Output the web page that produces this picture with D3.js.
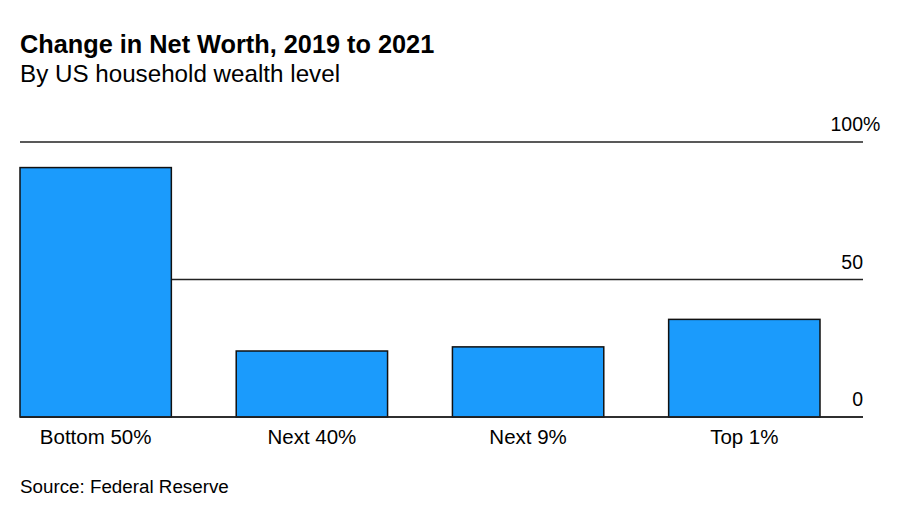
<!DOCTYPE html>
<html><head><meta charset="utf-8">
<script src="https://cdn.jsdelivr.net/npm/d3@7"></script>
<style>body{margin:0;background:#fff;} svg{display:block;} text{font-family:"Liberation Sans",Arial,sans-serif;fill:#000;}</style>
</head><body>
<svg id="c" width="908" height="517"></svg>
<script>
const categories = ["Bottom 50%", "Next 40%", "Next 9%", "Top 1%"];
const values = [90.7, 24, 25.5, 35.5];
const tickValues = [0, 50, 100];
const tickLabels = ["0", "50", "100%"];

const svg = d3.select("#c");
const x = d3.scaleBand().domain(categories).range([20, 820]).paddingInner(0.3).paddingOuter(0);
const y = d3.scaleLinear().domain([0, 100]).range([417, 142]);
const gridRight = 863;

svg.append("text").attr("x", 20).attr("y", 53).attr("font-size", 25.3).attr("font-weight", "bold")
  .text("Change in Net Worth, 2019 to 2021");
svg.append("text").attr("x", 20).attr("y", 82).attr("font-size", 24.2)
  .text("By US household wealth level");

// gridlines
svg.append("g").selectAll("line").data(tickValues).join("line")
  .attr("x1", 20).attr("x2", gridRight)
  .attr("y1", d => y(d)).attr("y2", d => y(d))
  .attr("stroke", "#222").attr("stroke-width", 1.5);

// tick labels: numeric part right-aligned at gridRight, "%" hangs beyond
svg.append("g").selectAll("text").data(tickValues).join("text")
  .attr("y", d => y(d) - 11)
  .attr("font-size", 19.5)
  .text((d, i) => tickLabels[i])
  .each(function(d, i) {
    const lab = tickLabels[i];
    const t = d3.select(this);
    const full = this.getComputedTextLength();
    let pw = 0;
    if (lab.endsWith("%")) {
      t.text("%"); pw = this.getComputedTextLength(); t.text(lab);
    }
    t.attr("x", gridRight - (full - pw));
  });

// bars
svg.append("g").selectAll("rect").data(values).join("rect")
  .attr("x", (d, i) => x(categories[i]))
  .attr("width", x.bandwidth())
  .attr("y", d => y(d))
  .attr("height", d => y(0) - y(d))
  .attr("fill", "#1b9bfc").attr("stroke", "#111").attr("stroke-width", 1.5);

// baseline on top
svg.append("line").attr("x1", 20).attr("x2", gridRight).attr("y1", y(0)).attr("y2", y(0))
  .attr("stroke", "#222").attr("stroke-width", 1.5);

// category labels
svg.append("g").selectAll("text").data(categories).join("text")
  .attr("x", d => x(d) + x.bandwidth() / 2).attr("y", 444)
  .attr("text-anchor", "middle").attr("font-size", 20.5)
  .text(d => d);

svg.append("text").attr("x", 20).attr("y", 493).attr("font-size", 18.8)
  .text("Source: Federal Reserve");
</script>
</body></html>
